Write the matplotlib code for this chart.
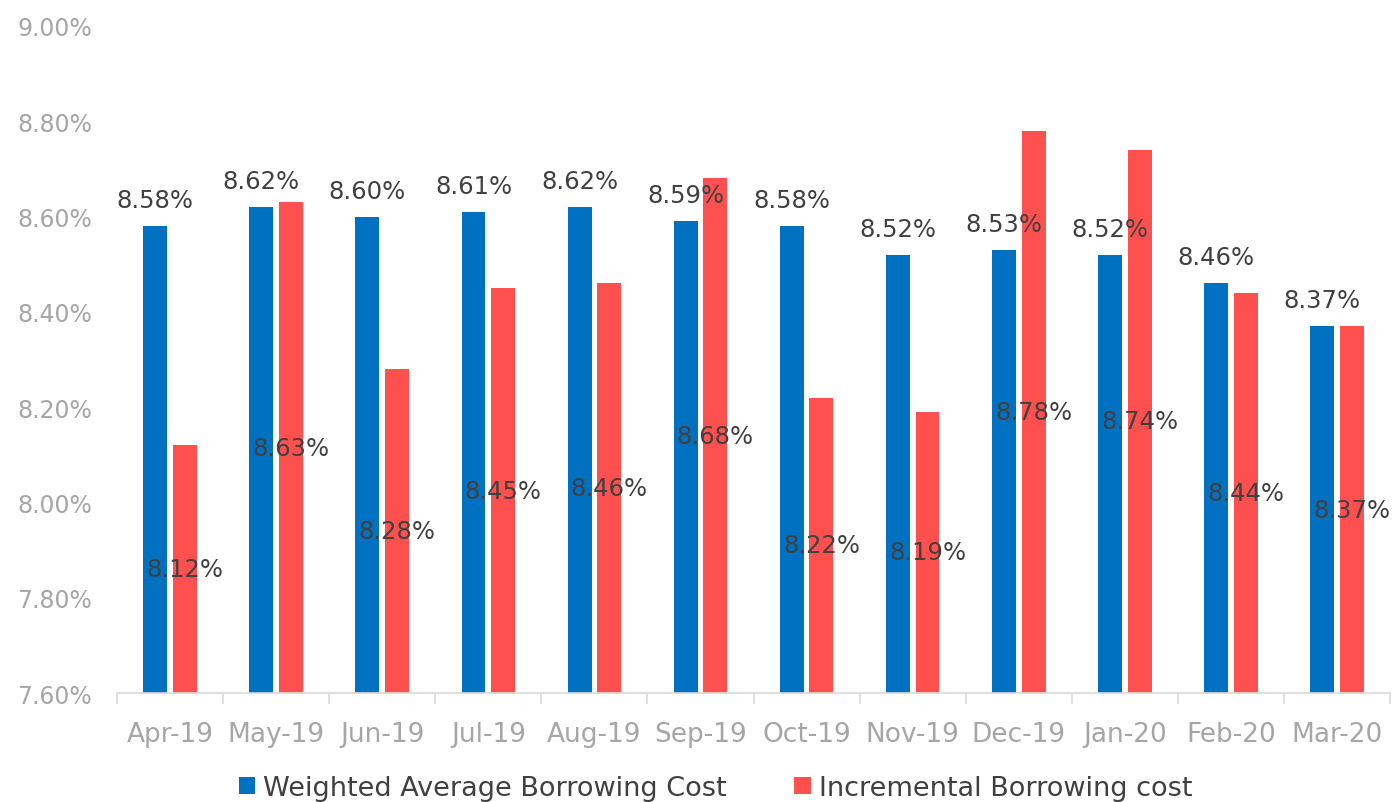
import matplotlib.pyplot as plt
import numpy as np

months = ['Apr-19', 'May-19', 'Jun-19', 'Jul-19', 'Aug-19', 'Sep-19',
          'Oct-19', 'Nov-19', 'Dec-19', 'Jan-20', 'Feb-20', 'Mar-20']
weighted = [8.58, 8.62, 8.60, 8.61, 8.62, 8.59, 8.58, 8.52, 8.53, 8.52, 8.46, 8.37]
incremental = [8.12, 8.63, 8.28, 8.45, 8.46, 8.68, 8.22, 8.19, 8.78, 8.74, 8.44, 8.37]

blue = '#0070C0'
red = '#FF5050'
lab_col = '#404040'
tick_col = '#A6A6A6'
ymin, ymax = 7.60, 9.00

plt.rcParams['font.family'] = ['DejaVu Sans']
fig = plt.figure(figsize=(13.97, 8.03), dpi=100)
ax = fig.add_axes([0.0838, 0.1357, 0.9112, 0.8307])

x = np.arange(len(months))
w = 0.225
off = 0.14
ax.bar(x - off, [v - ymin for v in weighted], w, bottom=ymin, color=blue,
       label='Weighted Average Borrowing Cost')
ax.bar(x + off, [v - ymin for v in incremental], w, bottom=ymin, color=red,
       label='Incremental Borrowing cost')

for i, (b, r) in enumerate(zip(weighted, incremental)):
    ax.annotate('{:.2f}%'.format(b), (i - off, b), xytext=(0, 10),
                textcoords='offset points', ha='center', va='bottom',
                fontsize=17.5, color=lab_col)
    ax.text(i + off, (ymin + r) / 2, '{:.2f}%'.format(r), ha='center',
            va='center', fontsize=17.5, color=lab_col)

ax.set_xlim(-0.5, len(months) - 0.5)
ax.set_ylim(ymin, ymax)
ax.set_yticks(np.arange(7.60, 9.001, 0.20))
ax.set_yticklabels(['{:.2f}%'.format(t) for t in np.arange(7.60, 9.001, 0.20)])
ax.set_xticks(x)
ax.set_xticklabels(months)
ax.set_xticks(np.arange(-0.5, len(months), 1), minor=True)
ax.tick_params(axis='x', which='major', length=0, labelsize=19,
               labelcolor=tick_col, pad=20)
ax.tick_params(axis='x', which='minor', length=8, color='#D9D9D9', width=1.2)
ax.tick_params(axis='y', length=0, labelsize=17, labelcolor=tick_col, pad=18)

for s in ['top', 'right', 'left']:
    ax.spines[s].set_visible(False)
ax.spines['bottom'].set_color('#D9D9D9')
ax.spines['bottom'].set_linewidth(1.2)

leg = ax.legend(loc='center', bbox_to_anchor=(0.47, -0.1424), ncol=2,
                frameon=False, fontsize=19.5, handlelength=0.6, handleheight=0.6,
                handletextpad=0.3, columnspacing=2.5)
for t in leg.get_texts():
    t.set_color(lab_col)

fig.savefig('out.png', dpi=100)
